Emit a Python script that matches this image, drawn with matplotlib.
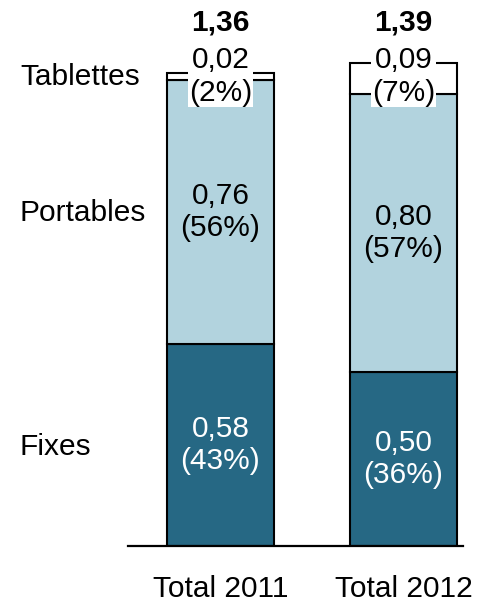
import matplotlib.pyplot as plt

plt.rcParams["font.family"] = ["Liberation Sans", "DejaVu Sans"]

# data
years = ["Total 2011", "Total 2012"]
segments = ["Fixes", "Portables", "Tablettes"]
fixes = [0.58, 0.50]
portables = [0.76, 0.80]
tablettes = [0.02, 0.09]
shares_fixes = [43, 36]
shares_portables = [56, 57]
shares_tablettes = [2, 7]
totals = [1.36, 1.39]

dark = "#266884"
light = "#b2d3de"
W, H = 479, 603

fig = plt.figure(figsize=(W / 100, H / 100), dpi=100)
ax = fig.add_axes([128 / W, (H - 546) / H, (463 - 128) / W, 546 / H])
ax.set_xlim(-0.505, 1.325)
ax.set_ylim(0, 546 / 347.8)
for s in ["top", "right", "left"]:
    ax.spines[s].set_visible(False)
ax.spines["bottom"].set_linewidth(1.6)
ax.set_xticks([])
ax.set_yticks([])

fmt = lambda v: f"{v:.2f}".replace(".", ",")
x = range(len(years))
bw = 0.585
bottom2 = [a + b for a, b in zip(fixes, portables)]
ax.bar(x, fixes, width=bw, color=dark, edgecolor="black", linewidth=1.5)
ax.bar(x, portables, width=bw, bottom=fixes, color=light, edgecolor="black", linewidth=1.5)
ax.bar(x, tablettes, width=bw, bottom=bottom2, color="white", edgecolor="black", linewidth=1.5)

fs = 21.5
ls = 1.2
for i in x:
    ax.text(i, fixes[i] / 2, f"{fmt(fixes[i])}\n({shares_fixes[i]}%)", ha="center", va="center",
            color="white", fontsize=fs, linespacing=ls)
    ax.text(i, fixes[i] + portables[i] / 2, f"{fmt(portables[i])}\n({shares_portables[i]}%)",
            ha="center", va="center", color="black", fontsize=fs, linespacing=ls)
    ax.text(i, 1.35, f"{fmt(tablettes[i])}\n({shares_tablettes[i]}%)", ha="center", va="center",
            color="black", fontsize=fs, linespacing=ls,
            bbox=dict(facecolor="white", edgecolor="none", pad=0.5))
    ax.text(i, 1.505, fmt(totals[i]), ha="center", va="center", fontsize=fs, fontweight="bold")
    ax.text(i, -0.125, years[i], ha="center", va="center", fontsize=fs)

label_y = [447, 213, 77]
for name, py in zip(segments, label_y):
    fig.text(20 / W, 1 - py / H, name, ha="left", va="center", fontsize=fs)

fig.savefig("out.png", dpi=100)
